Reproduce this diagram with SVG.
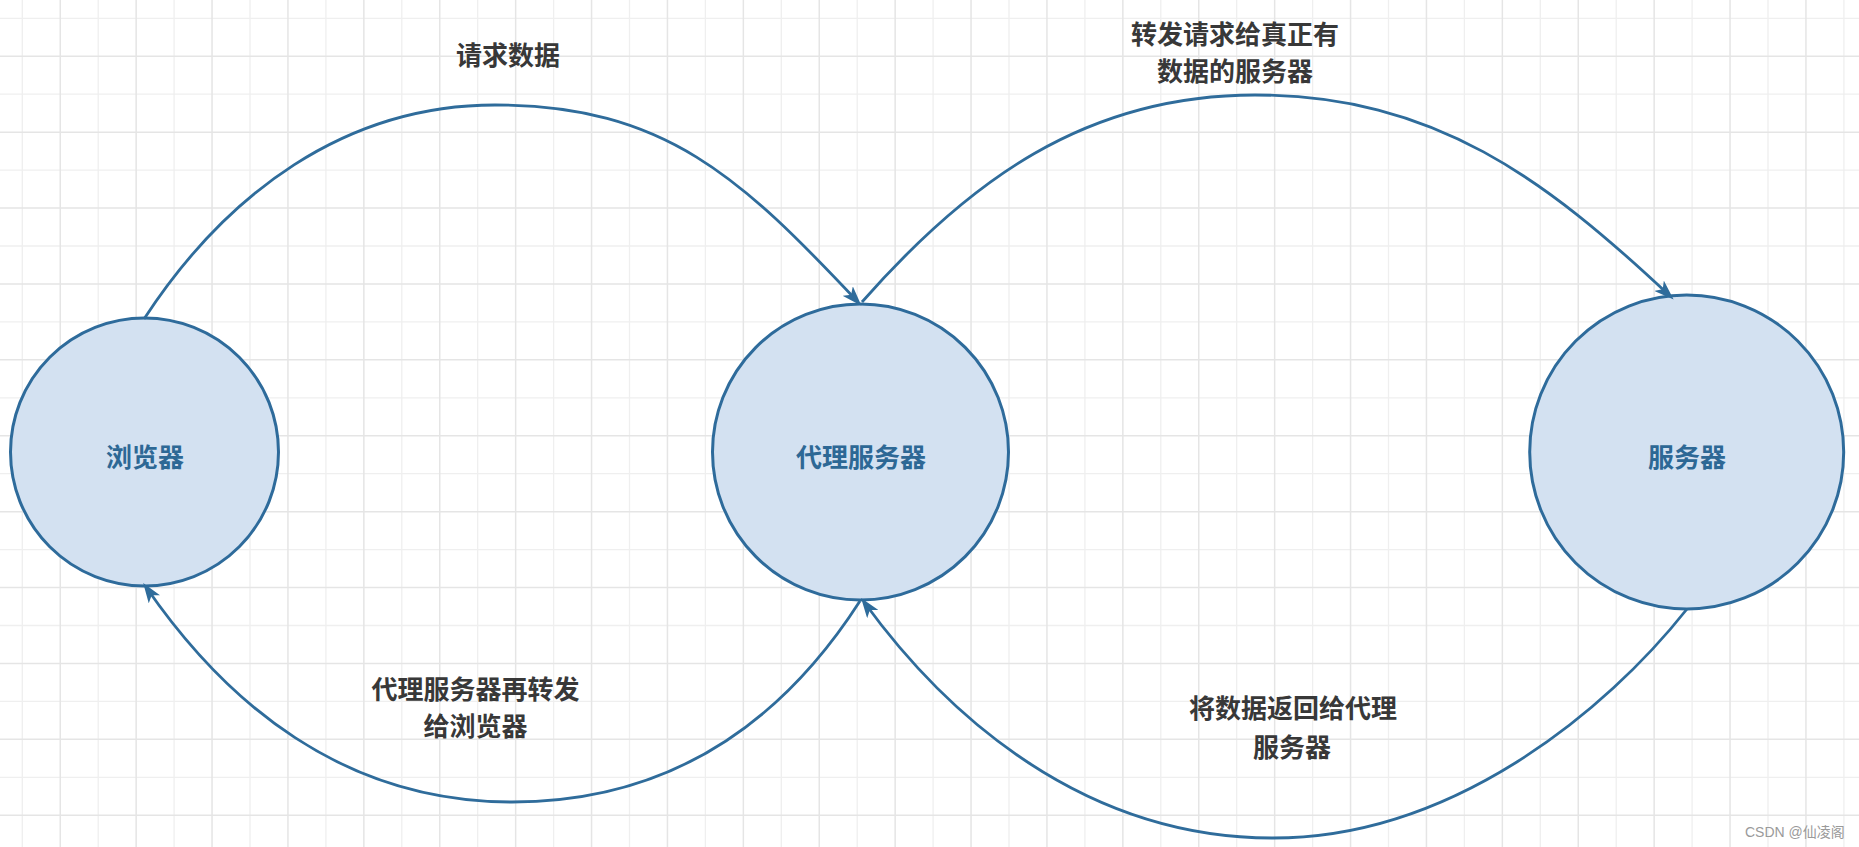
<svg xmlns="http://www.w3.org/2000/svg" width="1859" height="847" viewBox="0 0 1859 847">
<style>
.gmin{stroke:#efefef;stroke-width:1.3;fill:none}
.gmaj{stroke:#e5e5e5;stroke-width:1.5;fill:none}
.node{fill:#d3e1f1;stroke:#2e6b9b;stroke-width:3}
.ntext{font-family:"Noto Sans CJK SC","Noto Sans",sans-serif;font-weight:700;font-size:26px;fill:#2d6895;text-anchor:middle;dominant-baseline:central}
.edge{fill:none;stroke:#2f6c9b;stroke-width:2.8}
.ltext{font-family:"Noto Sans CJK SC","Noto Sans",sans-serif;font-weight:700;font-size:26px;fill:#383838;text-anchor:middle;dominant-baseline:central}
.wm{font-family:"Liberation Sans","Noto Sans CJK SC",sans-serif;font-size:14px;fill:#9a9a9a}
</style>
<defs>
<marker id="arrow" markerUnits="userSpaceOnUse" markerWidth="20" markerHeight="14" viewBox="0 0 20 14" refX="15" refY="7" orient="auto">
<path d="M0,0 L20,7 L0,14 L5,7 Z" fill="#2f6c9b"/>
</marker>
</defs>
<rect width="1859" height="847" fill="#ffffff"/>
<g id="grid">
<path class="gmin" d="M22.3 0V847M98.2 0V847M174.1 0V847M250 0V847M325.9 0V847M401.8 0V847M477.7 0V847M553.6 0V847M629.5 0V847M705.4 0V847M781.3 0V847M857.2 0V847M933.1 0V847M1009 0V847M1084.9 0V847M1160.8 0V847M1236.7 0V847M1312.6 0V847M1388.5 0V847M1464.4 0V847M1540.3 0V847M1616.2 0V847M1692.1 0V847M1768 0V847M1843.9 0V847M0 18.3H1859M0 94.2H1859M0 170.1H1859M0 246H1859M0 321.9H1859M0 397.8H1859M0 473.7H1859M0 549.6H1859M0 625.5H1859M0 701.4H1859M0 777.3H1859"/>
<path class="gmaj" d="M60.25 0V847M136.15 0V847M212.05 0V847M287.95 0V847M363.85 0V847M439.75 0V847M515.65 0V847M591.55 0V847M667.45 0V847M743.35 0V847M819.25 0V847M895.15 0V847M971.05 0V847M1046.95 0V847M1122.85 0V847M1198.75 0V847M1274.65 0V847M1350.55 0V847M1426.45 0V847M1502.35 0V847M1578.25 0V847M1654.15 0V847M1730.05 0V847M1805.95 0V847M0 56.25H1859M0 132.15H1859M0 208.05H1859M0 283.95H1859M0 359.85H1859M0 435.75H1859M0 511.65H1859M0 587.55H1859M0 663.45H1859M0 739.35H1859M0 815.25H1859"/>
</g>
<g id="node-browser">
<circle class="node" cx="144.5" cy="452" r="134"/>
<text class="ntext" x="145" y="455">浏览器</text>
</g>
<g id="node-proxy">
<circle class="node" cx="860.5" cy="452" r="148"/>
<text class="ntext" x="861" y="455">代理服务器</text>
</g>
<g id="node-server">
<circle class="node" cx="1686.7" cy="452" r="157"/>
<text class="ntext" x="1687" y="455">服务器</text>
</g>
<g id="connectors">
<path id="e1" class="edge" marker-end="url(#arrow)" d="M144,319 C226,193.4 345,105 495,105 C665,105 741.4,178.2 858,302"/>
<path id="e2" class="edge" marker-end="url(#arrow)" d="M862,302 C967.6,182 1085,95 1255,95 C1435,95 1546,179.7 1670,296"/>
<path id="e3" class="edge" marker-end="url(#arrow)" d="M860,601 C789.8,710.2 682,802 512,802 C342,802 225.4,702.2 146,587"/>
<path id="e4" class="edge" marker-end="url(#arrow)" d="M1687,609 C1606.3,710.9 1453,838 1273,838 C1083,838 946.3,715.3 864,602"/>
</g>
<g id="labels">
<text class="ltext" x="508" y="53">请求数据</text>
<text class="ltext" x="1235" y="32">转发请求给真正有</text>
<text class="ltext" x="1235" y="69">数据的服务器</text>
<text class="ltext" x="475.5" y="687">代理服务器再转发</text>
<text class="ltext" x="475.5" y="724">给浏览器</text>
<text class="ltext" x="1293" y="706">将数据返回给代理</text>
<text class="ltext" x="1292" y="745">服务器</text>
</g>
<text class="wm" x="1745" y="836.5">CSDN @仙凌阁</text>
</svg>
